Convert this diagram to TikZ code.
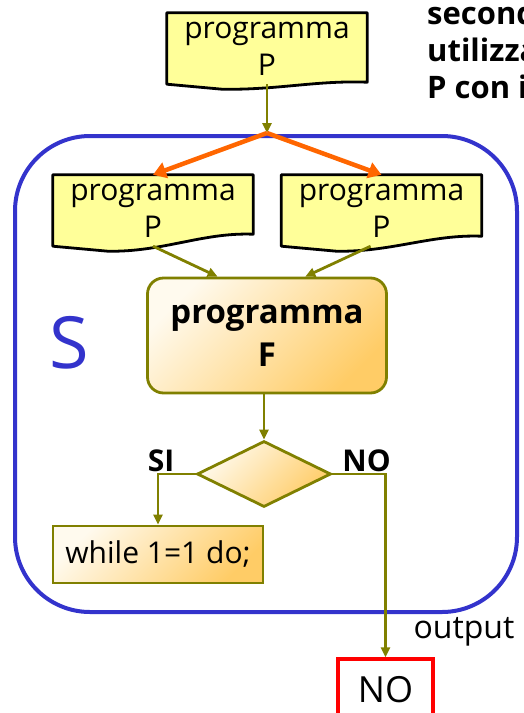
\documentclass[tikz,border=0pt]{standalone}
\usepackage{fontspec}
\setmainfont{Open Sans}
\usetikzlibrary{positioning, arrows.meta, calc, shapes.geometric, backgrounds}

\definecolor{flowolive}{RGB}{128,128,0}
\definecolor{forkorange}{RGB}{255,102,0}
\definecolor{sysblue}{RGB}{51,51,204}
\definecolor{docyellow}{RGB}{255,255,153}
\definecolor{proclight}{RGB}{255,250,238}
\definecolor{procdark}{RGB}{255,204,102}

\begin{document}
\begin{tikzpicture}[
    x=1pt, y=-1pt, % work in pixels, y going down
    every node/.style={font=\fontsize{30}{37}\selectfont},
    docbox/.style={minimum width=200pt, minimum height=71pt, inner sep=0pt, align=center},
    procbox/.style={draw=flowolive, line width=2.8pt, top color=proclight, bottom color=procdark, shading angle=45, inner sep=0pt},
    sysframe/.style={draw=sysblue, line width=4pt, rounded corners=75pt, minimum width=502pt, minimum height=476pt},
    flow/.style={draw=flowolive, line width=2.8pt, -{Triangle[length=10pt,width=9pt]}},
    fork/.style={draw=forkorange, line width=4.5pt, -{Triangle[length=13pt,width=16pt]}},
    tag/.style={font=\bfseries\fontsize{30}{32}\selectfont, inner sep=1pt}
]
    \useasboundingbox (0,0) rectangle (524,713);
    \clip (0,0) rectangle (524,713);

    % the system S
    \node[sysframe] (sys) at (266,374) {};
    \node[text=sysblue, font=\fontsize{72}{72}\selectfont] (s) at (69,343) {S};

    % programs P
    \node[docbox] (pt) at (267,48.5) {programma\\P};
    \node[docbox] (pl) at (153,210.5) {programma\\P};
    \node[docbox] (pr) at (381.5,210.5) {programma\\P};
    \coordinate (split) at (267,133);

    % program F and its test
    \node[procbox, rounded corners=16pt, minimum width=239pt, minimum height=115pt,
          align=center, font=\bfseries\fontsize{33}{42}\selectfont] (f) at (267,335.5) {programma\\[1pt]F};
    \node[procbox, diamond, aspect=2, minimum width=134pt, minimum height=66pt] (test) at (264,474) {};
    \node[procbox, minimum width=210pt, minimum height=57pt] (loop) at (158,554.5) {while 1=1 do;};
    \node[draw=red, line width=3.2pt, minimum width=95pt, minimum height=62pt,
          font=\fontsize{36}{40}\selectfont] (no) at (385.5,690) {NO};
    \node[font=\fontsize{32}{36}\selectfont] (out) at (464,632) {output};

    \node[anchor=north west, align=left, inner sep=0pt,
          font=\bfseries\fontsize{31}{37}\selectfont] (note) at (427,1) {second\\utilizza\\P con i};

    % wavy outlines of the program sheets
    \begin{scope}[on background layer]
        \foreach \n/\r in {pt/-2, pl/-12, pr/-10}
            \draw[fill=docyellow, line width=2.8pt, line join=round]
                (\n.north west) -- (\n.north east) -- ($(\n.south east)+(0,\r)$)
                .. controls ($(\n.south west)+(150,\r-2)$) and ($(\n.south west)+(110,6)$)
                .. ($(\n.south west)+(55,5)$) -- (\n.south west) -- cycle;
    \end{scope}

    % connectors
    \draw[flow] (pt) -- (split);
    \draw[fork] (split) -- (pl.north);
    \draw[fork] (split) -- (pr.north);
    \draw[flow] (pl.south) -- (f.130);
    \draw[flow] (pr.-107) -- (f.57);
    \draw[flow] (f.south -| test.north) -- (test.north);
    \draw[flow] (test.west) -| node[tag, pos=0.5, above, xshift=3pt] (si) {SI} (loop.north);
    \draw[flow] (test.east) -| node[tag, pos=0.5, above, xshift=-19pt] (nolbl) {NO} (no.north);
\end{tikzpicture}
\end{document}
